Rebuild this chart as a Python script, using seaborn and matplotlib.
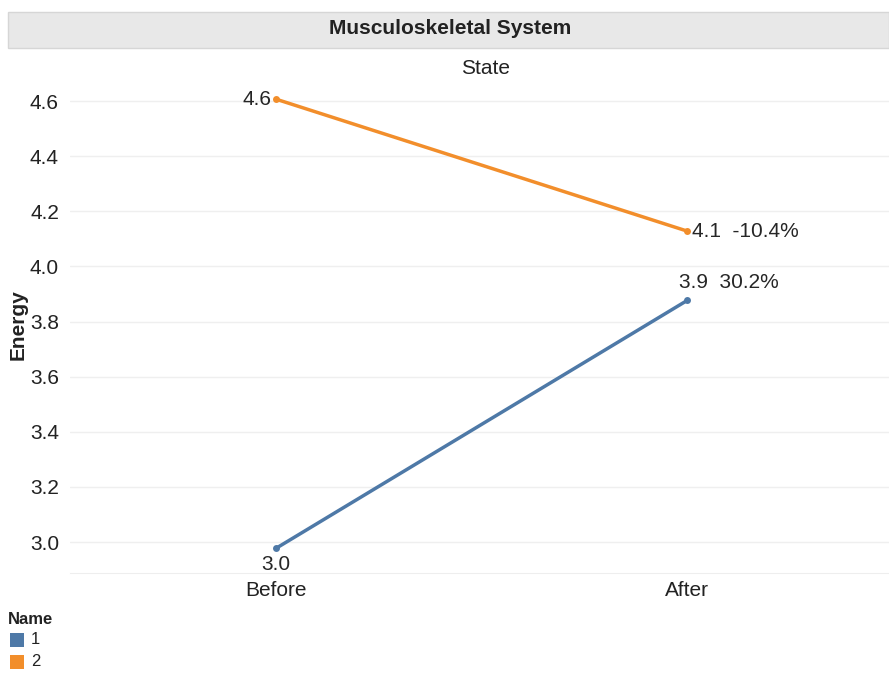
import pandas as pd
import seaborn as sns
import matplotlib.pyplot as plt
from matplotlib.patches import Rectangle

# data
states = ["Before", "After"]
names = ["1", "2"]
energy_1 = [2.977, 3.877]
energy_2 = [4.607, 4.128]
y_ticks = [3.0, 3.2, 3.4, 3.6, 3.8, 4.0, 4.2, 4.4, 4.6]
colors = ["#4e79a7", "#f28e2b"]

df = pd.DataFrame({
    "State": states * 2,
    "Name": [names[0]] * 2 + [names[1]] * 2,
    "Energy": energy_1 + energy_2,
})

sns.set_style("white")
plt.rcParams["font.family"] = ["Liberation Sans", "DejaVu Sans"]

fig = plt.figure(figsize=(8.89, 6.75), dpi=100)
W, H = 889, 675
ax = fig.add_axes([70 / W, 1 - 573 / H, (889 - 70) / W, (573 - 82) / H])

sns.lineplot(
    data=df, x="State", y="Energy", hue="Name",
    palette=colors, marker="o", markersize=5, markeredgewidth=0,
    linewidth=2.5, legend=False, ax=ax, sort=False,
)

fs = 15
ax.set_xlim(-0.5, 1.49)
ax.set_ylim(2.888, 4.669)
ax.set_yticks(y_ticks)
ax.set_yticklabels([f"{v:.1f}" for v in y_ticks], fontsize=fs, color="#222222")
ax.set_xticks([0, 1])
ax.set_xticklabels(states, fontsize=fs, color="#222222")
ax.tick_params(axis="y", length=0, pad=8)
ax.tick_params(axis="x", length=0, pad=6)
ax.set_xlabel("")
ax.set_ylabel("")
ax.grid(axis="y", color="#efefef", linewidth=1)
for s in ["top", "right", "left"]:
    ax.spines[s].set_visible(False)
ax.spines["bottom"].set_color("#eeeeee")

# value labels
ax.text(-0.01, energy_2[0], f"{energy_2[0]:.1f}", ha="right", va="center", fontsize=fs)
ax.text(0, energy_1[0] - 0.025, f"{energy_1[0]:.1f}", ha="center", va="top", fontsize=fs)
pct1 = (energy_1[1] / energy_1[0] - 1) * 100
pct2 = (energy_2[1] / energy_2[0] - 1) * 100
ax.text(1.012, energy_2[1], f"{energy_2[1]:.1f}  {pct2:.1f}%", ha="left", va="center", fontsize=fs)
ax.text(0.98, energy_1[1] + 0.03, f"{energy_1[1]:.1f}  {pct1:.1f}%", ha="left", va="bottom", fontsize=fs)

# header band
fig.patches.append(Rectangle((8 / W, 1 - 48 / H), (889 - 8) / W, 36 / H,
                             transform=fig.transFigure, facecolor="#e8e8e8",
                             edgecolor="#d6d6d6", linewidth=1))
fig.text(450 / W, 1 - 29 / H, "Musculoskeletal System", ha="center", va="center",
         fontsize=fs, fontweight="bold", color="#222222")
fig.text(486 / W, 1 - 68 / H, "State", ha="center", va="center", fontsize=fs, color="#222222")
fig.text(18 / W, 1 - 325 / H, "Energy", ha="center", va="center", rotation=90,
         fontsize=fs, fontweight="bold", color="#222222")

# legend
fig.text(8 / W, 1 - 620 / H, "Name", ha="left", va="center", fontsize=12,
         fontweight="bold", color="#222222")
for i, (n, c) in enumerate(zip(names, colors)):
    yc = 640 + i * 22
    fig.patches.append(Rectangle((10 / W, 1 - (yc + 7) / H), 14 / W, 14 / H,
                                 transform=fig.transFigure, facecolor=c, edgecolor="none"))
    fig.text(31 / W, 1 - yc / H, n, ha="left", va="center", fontsize=12, color="#222222")

fig.savefig("out.png", dpi=100)
